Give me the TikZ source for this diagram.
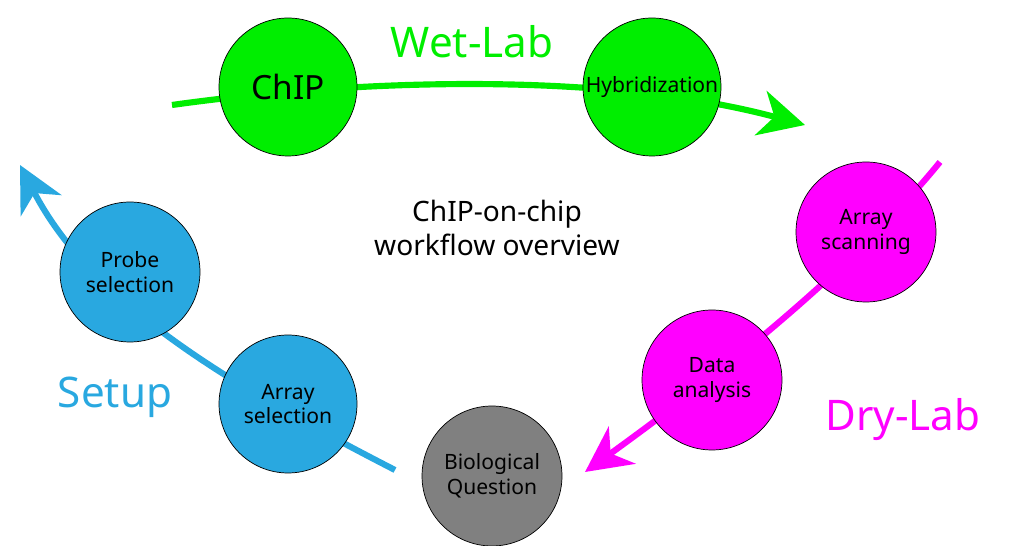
\documentclass[tikz,border=0pt]{standalone}
\usepackage{fontspec}
\setmainfont{Noto Sans}
\usetikzlibrary{arrows.meta}
\definecolor{wetgreen}{RGB}{0,238,0}
\definecolor{drymag}{RGB}{255,0,255}
\definecolor{setblue}{RGB}{41,168,224}
\definecolor{qgray}{RGB}{128,128,128}
\begin{document}
\begin{tikzpicture}[x=0.02cm,y=-0.02cm,
    wstep/.style={circle,draw=black,thin,minimum size=2.8cm,align=center,font=\fontsize{12}{14}\selectfont,inner sep=0pt},
    flow/.style={line width=3.5pt,-{Stealth[length=26pt,width=26pt,inset=8pt]}},
    phase/.style={font=\fontsize{24}{28}\selectfont}]
    \useasboundingbox (0,0) rectangle (1024,546);

    % Arrows
    \coordinate (gs) at (172,105);
    \coordinate (ge) at (805,125);
    \draw[flow,wetgreen] (gs) .. controls (350,80) and (600,70) .. (ge);
    \coordinate (ms) at (940,162);
    \coordinate (me) at (585,472);
    \draw[flow,drymag] (ms) .. controls (860,260) and (740,360) .. (me);
    \coordinate (bs) at (395,470);
    \coordinate (be) at (20,165);
    \draw[flow,setblue] (bs) .. controls (220,380) and (90,300) .. (be);

    % Steps
    \node[wstep,fill=wetgreen,minimum size=2.76cm,font=\fontsize{19}{22}\selectfont] (chip) at (288,87) {ChIP};
    \node[wstep,fill=wetgreen,minimum size=2.76cm] (hyb) at (652,87) {Hybridization};
    \node[wstep,fill=drymag] (scan) at (866,232) {Array\\scanning};
    \node[wstep,fill=drymag] (data) at (712,380) {Data\\analysis};
    \node[wstep,fill=qgray] (bio) at (492,476) {Biological\\Question};
    \node[wstep,fill=setblue,minimum size=2.76cm] (asel) at (288,404) {Array\\selection};
    \node[wstep,fill=setblue] (psel) at (130,272) {Probe\\selection};

    % Labels
    \node[font=\fontsize{16}{19}\selectfont,align=center] (title) at (497,228) {ChIP-on-chip\\workflow overview};
    \node[phase,text=wetgreen] (wet) at (472,42) {Wet-Lab};
    \node[phase,text=drymag] (dry) at (903,420) {Dry-Lab};
    \node[phase,text=setblue] (setup) at (115,397) {Setup};
\end{tikzpicture}
\end{document}
